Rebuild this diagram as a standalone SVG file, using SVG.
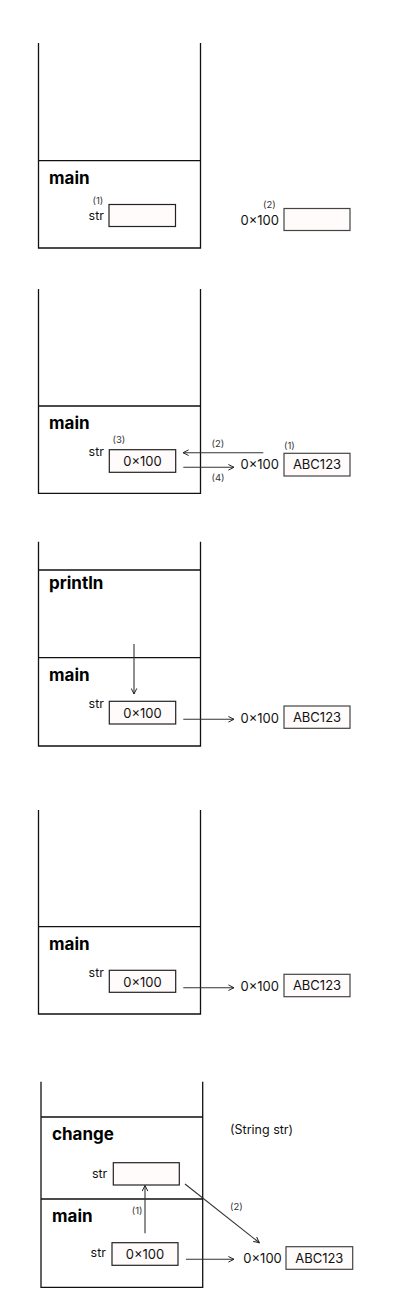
<svg xmlns="http://www.w3.org/2000/svg" width="420" height="1310" viewBox="0 0 420 1310">
<style>
.wall{fill:none;stroke:#111;stroke-width:1.3}
.box{fill:#fffbfb;stroke:#222;stroke-width:1.2}
.hbox{fill:#fffbfb;stroke:#444;stroke-width:1.2}
.frame{font-family:Inter,"Liberation Sans",sans-serif;font-weight:700;font-size:17px;fill:#000}
.t{font-family:Inter,"Liberation Sans",sans-serif;font-size:13px;fill:#111}
.s{font-family:Inter,"Liberation Sans",sans-serif;font-size:12.5px;fill:#111}
.n{font-family:Inter,"Liberation Sans",sans-serif;font-size:9.5px;fill:#333}
.ar{fill:none;stroke:#333;stroke-width:1.1;marker-end:url(#ah)}
</style>
<defs>
<marker id="ah" viewBox="0 0 10 10" refX="9" refY="5" markerWidth="7" markerHeight="7" markerUnits="userSpaceOnUse" orient="auto">
<path d="M1,1 L9,5 L1,9" fill="none" stroke="#222" stroke-width="1.4"/>
</marker>
</defs>

<!-- Panel 1 -->
<g id="p1-stack">
<path class="wall" d="M38.5,43 V248 H200.5 V43 M38.5,160.7 H200.5"/>
<text class="frame" x="49" y="184">main</text>
</g>
<g id="p1-str">
<text class="n" x="92.5" y="204">(1)</text>
<text class="s" x="104" y="220" text-anchor="end">str</text>
<rect class="box" x="109" y="204.5" width="66.5" height="22"/>
</g>
<g id="p1-heap">
<text class="n" x="263" y="207.5">(2)</text>
<text class="t" x="240.5" y="225">0×100</text>
<rect class="hbox" x="284" y="208.5" width="66" height="22"/>
</g>

<!-- Panel 2 -->
<g id="p2-stack">
<path class="wall" d="M38.5,289 V493.3 H200.5 V289 M38.5,406 H200.5"/>
<text class="frame" x="49" y="429">main</text>
</g>
<g id="p2-str">
<text class="n" x="112.5" y="443">(3)</text>
<text class="s" x="104" y="455.5" text-anchor="end">str</text>
<rect class="box" x="109.3" y="449.7" width="66.4" height="22.6"/>
<text class="t" x="142.5" y="466" text-anchor="middle">0×100</text>
</g>
<g id="p2-heap">
<text class="n" x="284" y="449">(1)</text>
<text class="t" x="240.5" y="469">0×100</text>
<rect class="hbox" x="284" y="453.3" width="66" height="22.7"/>
<text class="t" x="317" y="469" text-anchor="middle">ABC123</text>
</g>
<g id="p2-connectors">
<path class="ar" d="M263.3,452.7 H183"/>
<path class="ar" d="M183.3,467.3 H234"/>
<text class="n" x="211.5" y="446.5">(2)</text>
<text class="n" x="211.5" y="481">(4)</text>
</g>

<!-- Panel 3 -->
<g id="p3-stack">
<path class="wall" d="M38.5,541.7 V746 H200.5 V541.7 M38.5,570 H200.5 M38.5,657.7 H200.5"/>
<text class="frame" x="49" y="589.3">println</text>
<text class="frame" x="49" y="680.7">main</text>
</g>
<g id="p3-str">
<text class="s" x="104" y="707.5" text-anchor="end">str</text>
<rect class="box" x="109.3" y="701.3" width="66.4" height="22.7"/>
<text class="t" x="142.5" y="717.5" text-anchor="middle">0×100</text>
</g>
<g id="p3-heap">
<text class="t" x="240.5" y="722.7">0×100</text>
<rect class="hbox" x="284" y="706" width="66" height="22.3"/>
<text class="t" x="317" y="722" text-anchor="middle">ABC123</text>
</g>
<g id="p3-connectors">
<path class="ar" d="M134,644 V694"/>
<path class="ar" d="M183.3,719.3 H234"/>
</g>

<!-- Panel 4 -->
<g id="p4-stack">
<path class="wall" d="M38.5,810 V1014 H200.5 V810 M38.5,926.7 H200.5"/>
<text class="frame" x="49" y="950">main</text>
</g>
<g id="p4-str">
<text class="s" x="104" y="976.5" text-anchor="end">str</text>
<rect class="box" x="109.3" y="970.3" width="66.4" height="22"/>
<text class="t" x="142.5" y="986.5" text-anchor="middle">0×100</text>
</g>
<g id="p4-heap">
<text class="t" x="240.5" y="990.5">0×100</text>
<rect class="hbox" x="284" y="974.3" width="66" height="22.4"/>
<text class="t" x="317" y="990" text-anchor="middle">ABC123</text>
</g>
<g id="p4-connectors">
<path class="ar" d="M183.3,987.7 H234"/>
</g>

<!-- Panel 5 -->
<g id="p5-stack">
<path class="wall" d="M41,1081.7 V1287.3 H202.7 V1081.7 M41,1117 H202.7 M41,1199 H202.7"/>
<text class="frame" x="52" y="1140">change</text>
<text class="frame" x="52" y="1221.7">main</text>
<text class="s" x="230" y="1134.3">(String str)</text>
</g>
<g id="p5-change-str">
<text class="s" x="107.3" y="1177.7" text-anchor="end">str</text>
<rect class="box" x="113.3" y="1162.7" width="66" height="22.3"/>
</g>
<g id="p5-main-str">
<text class="s" x="106" y="1256.7" text-anchor="end">str</text>
<rect class="box" x="112" y="1242.7" width="66" height="22.6"/>
<text class="t" x="145" y="1259" text-anchor="middle">0×100</text>
</g>
<g id="p5-heap">
<text class="t" x="243.3" y="1262.7">0×100</text>
<rect class="hbox" x="286" y="1246.7" width="66.7" height="22.6"/>
<text class="t" x="319.3" y="1262.5" text-anchor="middle">ABC123</text>
</g>
<g id="p5-connectors">
<path class="ar" d="M145,1233.3 V1185.5"/>
<path class="ar" d="M185,1184 L259.3,1242.7"/>
<path class="ar" d="M186,1259.3 H234"/>
<text class="n" x="131.7" y="1214">(1)</text>
<text class="n" x="230" y="1210">(2)</text>
</g>
</svg>
